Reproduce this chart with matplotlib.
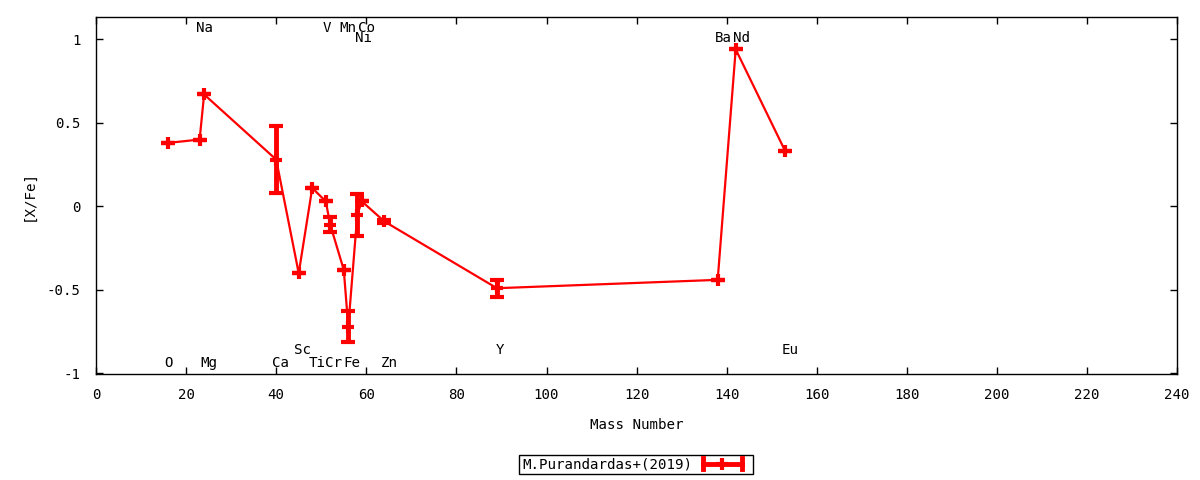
import matplotlib
matplotlib.use("Agg")
import matplotlib.pyplot as plt
from matplotlib.lines import Line2D
from matplotlib.legend_handler import HandlerBase

# ---- data ----
mass = [16, 23, 24, 40, 45, 48, 51, 52, 55, 56, 58, 59, 64, 89, 138, 142, 153]
xfe = [0.38, 0.40, 0.67, 0.28, -0.40, 0.11, 0.03, -0.11, -0.38, -0.72, -0.05, 0.03,
       -0.09, -0.49, -0.44, 0.94, 0.33]
xfe_err = [0, 0, 0, 0.20, 0, 0, 0, 0.045, 0, 0.095, 0.125, 0, 0.01, 0.05, 0, 0, 0]

elem_labels = ['O', 'Na', 'Mg', 'Ca', 'Sc', 'Ti', 'V', 'Cr', 'Mn', 'Fe', 'Ni', 'Co',
               'Zn', 'Y', 'Ba', 'Nd', 'Eu']
label_x = [16.2, 24.1, 25.1, 41.0, 45.9, 49.1, 51.3, 52.7, 55.9, 56.8, 59.3, 60.1,
           65.2, 89.6, 139.2, 143.3, 154.0]
label_y = [-0.94, 1.07, -0.94, -0.94, -0.86, -0.94, 1.07, -0.94, 1.07, -0.94, 1.005,
           1.07, -0.94, -0.86, 1.01, 1.01, -0.86]

series_name = 'M.Purandardas+(2019)'
x_ticks = list(range(0, 241, 20))
y_ticks = [-1, -0.5, 0, 0.5, 1]

plt.rcParams['font.family'] = ['DejaVu Sans Mono']
plt.rcParams['font.size'] = 10.2

fig = plt.figure(figsize=(12, 4.8), dpi=100)
ax = fig.add_axes([0.08, 0.22, 0.901, 0.744])

RED = '#ff0000'
ax.errorbar(mass, xfe, yerr=xfe_err, color=RED, lw=1.6, marker='+', ms=8, mew=3,
            elinewidth=3.5, capsize=5, capthick=3.5, zorder=3)

for t, lx, ly in zip(elem_labels, label_x, label_y):
    ax.text(lx, ly, t, ha='center', va='center', color='black', zorder=4)

ax.set_xlim(0, 240)
ax.set_ylim(-1.006, 1.132)
ax.set_xticks(x_ticks)
ax.set_yticks(y_ticks)
ax.set_yticklabels(['-1', '-0.5', '0', '0.5', '1'])
ax.tick_params(direction='in', top=True, right=True, length=5, width=1)
ax.tick_params(axis='x', pad=10)
ax.tick_params(axis='y', pad=11)
for s in ax.spines.values():
    s.set_linewidth(1)
ax.set_xlabel('Mass Number', labelpad=11)
ax.set_ylabel('[X/Fe]', labelpad=8)


class ErrHandler(HandlerBase):
    def create_artists(self, legend, orig_handle, xdescent, ydescent, width, height,
                       fontsize, trans):
        x0 = -xdescent + 6
        x1 = -xdescent + width - 6
        yc = -ydescent + height / 2
        arts = [Line2D([x0, x1], [yc, yc], color=RED, lw=3.5),
                Line2D([x0, x0], [yc - 4, yc + 4], color=RED, lw=3.5),
                Line2D([x1, x1], [yc - 4, yc + 4], color=RED, lw=3.5),
                Line2D([(x0 + x1) / 2], [yc], color=RED, marker='+', ms=8, mew=3)]
        for a in arts:
            a.set_transform(trans)
        return arts


proxy = Line2D([], [], color=RED)
leg = fig.legend([proxy], [series_name], handler_map={Line2D: ErrHandler()},
                 loc='center', bbox_to_anchor=(0.53, 0.032), markerfirst=False,
                 fancybox=False, framealpha=1, edgecolor='black', handlelength=3.9,
                 borderpad=0.2, handletextpad=0.2, borderaxespad=0)
leg.get_frame().set_linewidth(1)

fig.savefig('out.png', dpi=100)
